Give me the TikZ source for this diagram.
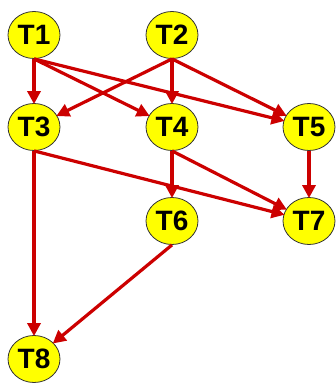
\documentclass[tikz,border=0pt]{standalone}
\usepackage{fontspec}
\setmainfont{Liberation Sans}
\usetikzlibrary{shapes.geometric,arrows.meta}
\definecolor{edgered}{RGB}{204,0,0}
\definecolor{nodeyellow}{RGB}{255,255,0}
\tikzset{
  task/.style={ellipse, draw=black!80, line width=0.8pt, fill=nodeyellow,
    minimum width=52pt, minimum height=47pt, inner sep=0pt,
    font=\fontsize{28}{28}\selectfont\bfseries},
  dep/.style={draw=edgered, line width=3.2pt,
    -{Triangle[length=13pt,width=13pt]}, shorten >=-1pt}
}
\begin{document}
\begin{tikzpicture}[x=1pt,y=-1pt]
\useasboundingbox (0,0) rectangle (335,385);
\node[task] (t1) at (34,35) {T1};
\node[task] (t2) at (172,35) {T2};
\node[task] (t3) at (34,127) {T3};
\node[task] (t4) at (172,127) {T4};
\node[task] (t5) at (309,127) {T5};
\node[task] (t6) at (172,221) {T6};
\node[task] (t7) at (309,221) {T7};
\node[task] (t8) at (34,359) {T8};
\draw[dep] (t1.south) -- (t3);
\draw[dep] (t1.south) -- (t4);
\draw[dep] (t1.south) -- (t5);
\draw[dep] (t2.south) -- (t3);
\draw[dep] (t2.south) -- (t4);
\draw[dep] (t2.south) -- (t5);
\draw[dep] (t3.south) -- (t7);
\draw[dep] (t3.south) -- (t8);
\draw[dep] (t4.south) -- (t6);
\draw[dep] (t4.south) -- (t7);
\draw[dep] (t5.south) -- (t7);
\draw[dep] (t6.south) -- (t8);
\end{tikzpicture}
\end{document}
